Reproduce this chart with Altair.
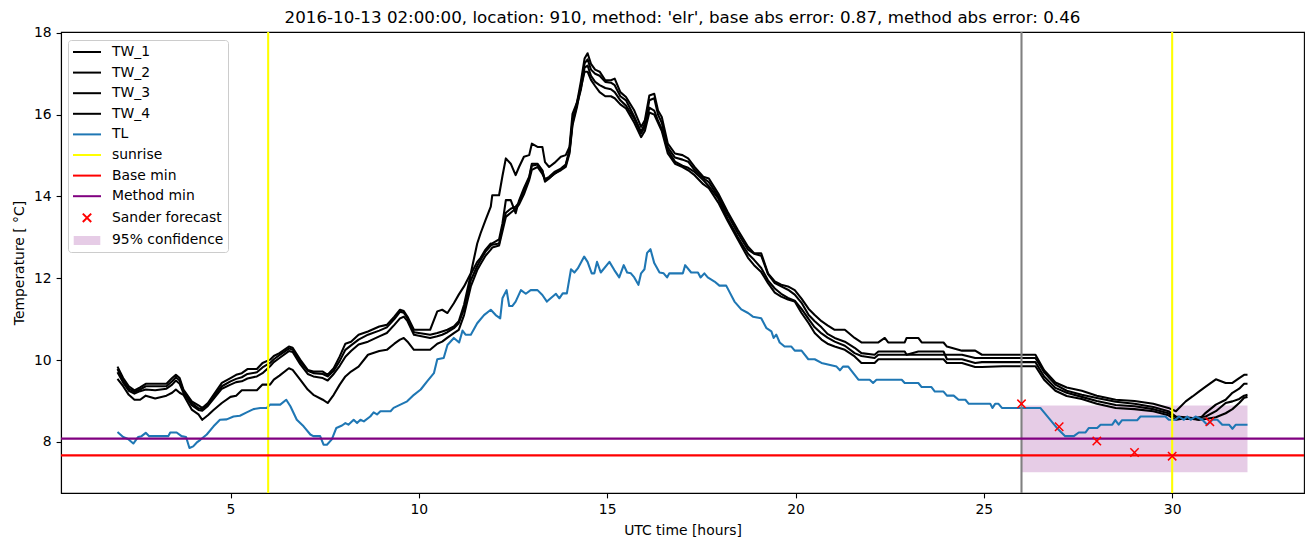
import altair as alt
import pandas as pd

# ---------------- data ----------------
TITLE = "2016-10-13 02:00:00, location: 910, method: 'elr', base abs error: 0.87, method abs error: 0.46"

TW_TIME = [2.0, 2.15, 2.3, 2.45, 2.6, 2.75, 3.0, 3.3, 3.45, 3.55,
           3.65, 3.75, 3.97, 4.15, 4.25, 4.4, 4.55, 4.77, 5.0, 5.15,
           5.3, 5.45, 5.7, 5.85, 6.05, 6.15, 6.3, 6.55, 6.65, 6.85,
           7.05, 7.2, 7.45, 7.58, 7.74, 7.9, 8.05, 8.2, 8.4, 8.65,
           8.95, 9.15, 9.35, 9.5, 9.6, 9.7, 9.87, 10.3, 10.49, 10.62,
           10.76, 10.93, 11.06, 11.2, 11.38, 11.55, 11.64, 11.77, 11.91, 11.95,
           12.13, 12.22, 12.31, 12.44, 12.57, 12.66, 12.79, 12.93, 13.0, 13.15,
           13.28, 13.35, 13.46, 13.6, 13.77, 13.9, 14.0, 14.08, 14.2, 14.3,
           14.4, 14.48, 14.57, 14.68, 14.8, 14.95, 15.1, 15.2, 15.35, 15.5,
           15.72, 15.9, 16.0, 16.12, 16.25, 16.35, 16.45, 16.61, 16.8, 17.0,
           17.15, 17.32, 17.55, 17.7, 17.95, 18.2, 18.47, 18.74, 18.9, 19.09,
           19.27, 19.45, 19.62, 19.8, 19.98, 20.16, 20.35, 20.51, 20.69, 20.85,
           21.04, 21.31, 21.57, 21.75, 22.1, 22.2, 22.37, 22.46, 22.9, 22.95,
           23.26, 23.35, 23.93, 24.02, 24.42, 24.77, 24.95, 25.5, 26.37, 26.6,
           26.9, 27.2, 27.6, 28.0, 28.5, 29.0, 29.5, 29.9, 30.1, 30.36,
           30.54, 30.71, 30.89, 31.16, 31.42, 31.6, 31.78, 31.91, 32.0]

TW_1 = [9.84, 9.56, 9.36, 9.26, 9.33, 9.42, 9.42, 9.42, 9.56, 9.64,
        9.56, 9.28, 8.99, 8.89, 8.83, 8.95, 9.15, 9.44, 9.56, 9.64,
        9.68, 9.78, 9.78, 9.93, 10.01, 10.10, 10.17, 10.33, 10.30, 10.01,
        9.76, 9.72, 9.72, 9.64, 9.80, 10.09, 10.40, 10.45, 10.62, 10.70,
        10.82, 10.86, 11.06, 11.23, 11.20, 11.06, 10.74, 10.74, 11.19, 11.23,
        11.15, 11.39, 11.60, 11.80, 12.12, 12.85, 13.10, 13.42, 13.75, 14.03,
        14.03, 14.50, 14.93, 14.80, 14.52, 14.72, 14.97, 15.01, 15.29, 15.21,
        15.21, 14.84, 14.72, 14.82, 14.97, 15.01, 15.21, 16.02, 16.30, 16.80,
        17.37, 17.50, 17.24, 17.10, 17.05, 16.84, 16.84, 16.88, 16.55, 16.43,
        16.10, 15.70, 15.86, 16.47, 16.51, 16.10, 15.94, 15.29, 15.05, 15.01,
        14.93, 14.72, 14.48, 14.44, 14.07, 13.62, 13.18, 12.77, 12.61, 12.61,
        12.12, 11.92, 11.84, 11.80, 11.71, 11.50, 11.25, 11.10, 10.95, 10.85,
        10.74, 10.74, 10.54, 10.43, 10.43, 10.43, 10.54, 10.43, 10.43, 10.54,
        10.54, 10.43, 10.43, 10.33, 10.23, 10.23, 10.13, 10.13, 10.13, 9.75,
        9.45, 9.33, 9.25, 9.13, 9.03, 9.00, 8.93, 8.83, 8.75, 8.99,
        9.11, 9.23, 9.35, 9.53, 9.44, 9.44, 9.56, 9.64, 9.64]

TW_2 = [9.78, 9.50, 9.30, 9.22, 9.28, 9.36, 9.36, 9.36, 9.48, 9.58,
        9.50, 9.25, 8.95, 8.82, 8.80, 8.92, 9.10, 9.36, 9.48, 9.54,
        9.58, 9.66, 9.70, 9.82, 9.93, 10.02, 10.12, 10.28, 10.26, 9.96,
        9.74, 9.68, 9.66, 9.60, 9.74, 9.98, 10.25, 10.36, 10.50, 10.62,
        10.72, 10.80, 11.00, 11.18, 11.16, 11.02, 10.68, 10.62, 10.66, 10.70,
        10.74, 10.82, 10.95, 11.35, 12.10, 12.40, 12.50, 12.70, 12.85, 12.85,
        12.95, 13.34, 13.91, 13.91, 13.59, 13.90, 14.20, 14.48, 14.80, 14.80,
        14.64, 14.36, 14.44, 14.56, 14.64, 14.72, 15.05, 15.74, 16.19, 16.70,
        17.25, 17.35, 17.10, 17.00, 16.95, 16.80, 16.78, 16.72, 16.45, 16.35,
        15.95, 15.58, 15.78, 16.35, 16.40, 16.00, 15.80, 15.20, 14.95, 14.90,
        14.85, 14.65, 14.45, 14.35, 14.00, 13.55, 13.10, 12.70, 12.60, 12.55,
        12.10, 11.88, 11.80, 11.72, 11.60, 11.40, 11.10, 10.95, 10.80, 10.64,
        10.54, 10.45, 10.30, 10.17, 10.13, 10.21, 10.21, 10.21, 10.21, 10.13,
        10.13, 10.13, 10.13, 10.13, 10.13, 10.05, 10.05, 10.05, 10.05, 9.70,
        9.40, 9.25, 9.15, 9.07, 8.98, 8.93, 8.85, 8.75, 8.62, 8.60,
        8.58, 8.54, 8.71, 8.91, 9.03, 9.20, 9.30, 9.42, 9.42]

TW_3 = [9.70, 9.45, 9.25, 9.18, 9.24, 9.28, 9.26, 9.30, 9.40, 9.50,
        9.42, 9.20, 8.90, 8.78, 8.76, 8.88, 9.05, 9.30, 9.40, 9.46,
        9.48, 9.55, 9.60, 9.68, 9.85, 9.95, 10.05, 10.22, 10.20, 9.90,
        9.66, 9.60, 9.56, 9.50, 9.66, 9.86, 10.08, 10.22, 10.38, 10.45,
        10.58, 10.66, 10.86, 11.02, 11.06, 10.95, 10.62, 10.54, 10.58, 10.62,
        10.68, 10.78, 10.90, 11.25, 11.95, 12.30, 12.45, 12.65, 12.80, 12.82,
        12.85, 13.25, 13.60, 13.70, 13.75, 13.85, 14.15, 14.45, 14.75, 14.78,
        14.62, 14.40, 14.45, 14.55, 14.66, 14.76, 15.10, 15.80, 16.25, 16.60,
        17.15, 17.20, 16.95, 16.80, 16.72, 16.65, 16.62, 16.55, 16.35, 16.22,
        15.90, 15.54, 15.70, 16.17, 16.10, 15.85, 15.65, 15.13, 14.85, 14.75,
        14.70, 14.60, 14.40, 14.25, 13.95, 13.45, 13.00, 12.60, 12.45, 12.25,
        11.95, 11.75, 11.62, 11.52, 11.45, 11.25, 11.00, 10.80, 10.65, 10.55,
        10.45, 10.35, 10.17, 10.10, 10.05, 10.13, 10.13, 10.13, 10.13, 10.13,
        10.21, 10.21, 10.21, 10.02, 10.02, 9.93, 9.95, 9.95, 9.95, 9.60,
        9.32, 9.20, 9.10, 9.00, 8.90, 8.87, 8.80, 8.70, 8.60, 8.56,
        8.56, 8.60, 8.62, 8.75, 8.95, 8.99, 9.05, 9.13, 9.15]

TW_4 = [9.54, 9.36, 9.15, 9.03, 9.03, 9.13, 9.06, 9.13, 9.20, 9.28,
        9.20, 9.15, 8.79, 8.67, 8.54, 8.65, 8.78, 8.95, 9.10, 9.13,
        9.26, 9.26, 9.26, 9.40, 9.40, 9.52, 9.62, 9.80, 9.76, 9.52,
        9.28, 9.15, 9.03, 8.95, 9.15, 9.40, 9.60, 9.72, 9.84, 10.13,
        10.22, 10.25, 10.40, 10.50, 10.54, 10.45, 10.25, 10.25, 10.40, 10.45,
        10.55, 10.66, 10.74, 11.10, 11.80, 12.20, 12.35, 12.55, 12.70, 12.75,
        12.80, 13.15, 13.50, 13.60, 13.70, 13.80, 14.05, 14.40, 14.65, 14.72,
        14.55, 14.42, 14.48, 14.60, 14.68, 14.78, 15.15, 15.85, 16.30, 16.65,
        17.05, 17.05, 16.85, 16.70, 16.55, 16.45, 16.45, 16.40, 16.25, 16.15,
        15.80, 15.45, 15.60, 16.05, 16.00, 15.80, 15.60, 15.05, 14.80, 14.72,
        14.64, 14.52, 14.30, 14.20, 13.85, 13.40, 12.95, 12.50, 12.32, 12.15,
        11.88, 11.65, 11.55, 11.48, 11.43, 11.15, 10.90, 10.66, 10.50, 10.40,
        10.33, 10.25, 10.09, 9.93, 9.93, 10.02, 10.02, 10.02, 10.02, 10.02,
        10.02, 10.02, 10.02, 9.93, 9.93, 9.83, 9.83, 9.85, 9.85, 9.52,
        9.25, 9.12, 9.05, 8.93, 8.83, 8.80, 8.75, 8.65, 8.54, 8.58,
        8.56, 8.54, 8.56, 8.60, 8.70, 8.80, 8.95, 9.08, 9.10]

TL_TIME = [2.0, 2.15, 2.28, 2.42, 2.55, 2.64, 2.75, 2.84, 3.35, 3.4,
           3.57, 3.7, 3.82, 3.91, 4.01, 4.1, 4.2, 4.37, 4.55, 4.72,
           4.9, 5.08, 5.25, 5.43, 5.61, 5.79, 5.96, 6.05, 6.32, 6.48,
           6.59, 6.76, 6.94, 7.12, 7.2, 7.38, 7.47, 7.56, 7.69, 7.81,
           7.96, 8.05, 8.13, 8.27, 8.36, 8.45, 8.54, 8.71, 8.8, 8.89,
           8.98, 9.25, 9.33, 9.51, 9.69, 9.87, 10.05, 10.22, 10.4, 10.49,
           10.66, 10.76, 10.93, 11.07, 11.16, 11.24, 11.38, 11.55, 11.73, 11.91,
           12.04, 12.16, 12.22, 12.33, 12.4, 12.48, 12.57, 12.71, 12.84, 12.97,
           13.15, 13.28, 13.4, 13.5, 13.64, 13.73, 13.82, 13.93, 14.04, 14.13,
           14.22, 14.39, 14.48, 14.59, 14.66, 14.73, 14.83, 15.06, 15.19, 15.32,
           15.44, 15.53, 15.63, 15.72, 15.83, 15.9, 15.99, 16.06, 16.15, 16.25,
           16.39, 16.5, 16.59, 16.65, 17.01, 17.07, 17.23, 17.41, 17.48, 17.58,
           17.67, 17.85, 17.98, 18.16, 18.38, 18.56, 18.74, 18.87, 19.09, 19.23,
           19.36, 19.42, 19.49, 19.58, 19.71, 19.89, 19.98, 20.16, 20.34, 20.51,
           20.69, 21.09, 21.18, 21.26, 21.4, 21.67, 21.97, 22.06, 22.15, 22.82,
           22.9, 23.26, 23.35, 23.61, 23.7, 23.93, 24.02, 24.2, 24.33, 24.51,
           24.6, 25.17, 25.23, 25.3, 25.39, 25.48, 26.5, 26.94, 27.16, 27.39,
           27.52, 27.7, 27.79, 28.01, 28.1, 28.41, 28.49, 28.58, 28.67, 29.07,
           29.16, 29.82, 29.91, 30.09, 30.18, 30.31, 30.4, 30.49, 30.62, 30.8,
           30.93, 31.07, 31.2, 31.33, 31.51, 31.6, 31.69, 32.0]

TL = [8.24, 8.12, 8.07, 7.96, 8.12, 8.14, 8.22, 8.14, 8.14, 8.23,
      8.23, 8.14, 8.12, 7.85, 7.89, 7.98, 8.05, 8.18, 8.38, 8.54,
      8.55, 8.62, 8.64, 8.72, 8.80, 8.83, 8.83, 8.91, 8.91, 9.03,
      8.87, 8.54, 8.38, 8.18, 8.14, 8.14, 7.93, 7.93, 8.06, 8.34,
      8.40, 8.46, 8.42, 8.54, 8.46, 8.54, 8.50, 8.62, 8.72, 8.67,
      8.75, 8.75, 8.83, 8.91, 8.99, 9.15, 9.28, 9.48, 9.68, 10.02,
      10.05, 10.37, 10.54, 10.43, 10.72, 10.62, 10.62, 10.90, 11.10, 11.23,
      11.10, 11.02, 11.51, 11.71, 11.32, 11.32, 11.43, 11.71, 11.62, 11.71,
      11.71, 11.59, 11.43, 11.51, 11.62, 11.51, 11.63, 11.63, 12.22, 12.14,
      12.24, 12.53, 12.40, 12.12, 12.12, 12.40, 12.14, 12.40, 12.20, 12.02,
      12.32, 12.14, 12.12, 12.02, 11.84, 12.12, 12.22, 12.62, 12.71, 12.37,
      12.14, 12.12, 12.02, 12.12, 12.12, 12.32, 12.14, 12.14, 12.02, 12.12,
      12.02, 11.92, 11.82, 11.82, 11.43, 11.24, 11.15, 11.06, 11.02, 10.78,
      10.70, 10.54, 10.62, 10.43, 10.33, 10.33, 10.23, 10.23, 10.02, 10.02,
      9.93, 9.84, 9.75, 9.84, 9.84, 9.52, 9.52, 9.44, 9.52, 9.52,
      9.44, 9.44, 9.34, 9.34, 9.23, 9.23, 9.13, 9.13, 9.03, 9.03,
      8.93, 8.93, 8.83, 8.93, 8.93, 8.83, 8.83, 8.34, 8.14, 8.14,
      8.23, 8.23, 8.34, 8.34, 8.42, 8.42, 8.53, 8.42, 8.53, 8.53,
      8.62, 8.62, 8.54, 8.54, 8.62, 8.54, 8.62, 8.54, 8.62, 8.54,
      8.42, 8.54, 8.54, 8.42, 8.42, 8.32, 8.42, 8.42]

SUNRISE = [6.0, 30.0]
FORECAST_START = [26.0]
BASE_MIN = [7.67]
METHOD_MIN = [8.08]
SANDER_TIME = [26, 27, 28, 29, 30, 31]
SANDER = [8.93, 8.37, 8.02, 7.74, 7.65, 8.49]
CONF_START = [26.0]
CONF_END = [32.0]
CONF_LOW = [7.26]
CONF_HIGH = [8.89]

LEGEND_LABELS = ["TW_1", "TW_2", "TW_3", "TW_4", "TL", "sunrise", "Base min",
                 "Method min", "Sander forecast", "95% confidence"]
X_TICKS = [5, 10, 15, 20, 25, 30]
Y_TICKS = [8, 10, 12, 14, 16, 18]

# ---------------- styling ----------------
FONT = "DejaVu Sans"
LINE_W = 2.08
LEGEND_COLORS = ["black", "black", "black", "black", "#1f77b4", "yellow", "red",
                 "purple", "red", "#e6cce6"]
LINE_PATH = "M-2,0L2,0"
CROSS_PATH = "M-0.6,-0.6L0.6,0.6M-0.6,0.6L0.6,-0.6"
PATCH_PATH = "".join("M-1.9,%.3fL1.9,%.3f" % (y, y)
                     for y in [-0.5, -0.375, -0.25, -0.125, 0, 0.125, 0.25, 0.375, 0.5])
LEGEND_SHAPES = [LINE_PATH] * 8 + [CROSS_PATH, PATCH_PATH]

tw_df = pd.concat([
    pd.DataFrame({"series": name, "t": TW_TIME, "v": vals})
    for name, vals in [("TW_1", TW_1), ("TW_2", TW_2), ("TW_3", TW_3), ("TW_4", TW_4)]
])
tl_df = pd.DataFrame({"t": TL_TIME, "v": TL})
sun_df = pd.DataFrame({"t": SUNRISE})
fc_df = pd.DataFrame({"t": FORECAST_START})
base_df = pd.DataFrame({"v": BASE_MIN})
meth_df = pd.DataFrame({"v": METHOD_MIN})
sander_df = pd.DataFrame({"t": SANDER_TIME, "v": SANDER})
conf_df = pd.DataFrame({"t": CONF_START, "t2": CONF_END, "v": CONF_LOW, "v2": CONF_HIGH})
leg_df = pd.DataFrame({"label": LEGEND_LABELS, "t": [-100.0] * 10, "v": [10.0] * 10})

X = alt.X("t:Q", scale=alt.Scale(domain=[0.5, 33.5], nice=False, zero=False),
          axis=alt.Axis(values=X_TICKS, title="UTC time [hours]", format="d",
                        labelFlush=False))
Y = alt.Y("v:Q", scale=alt.Scale(domain=[6.75, 18.02], nice=False, zero=False),
          axis=alt.Axis(values=Y_TICKS, title="Temperature [ °C]", format="d",
                        labelFlush=False))

band = alt.Chart(conf_df).mark_rect(color="purple", opacity=0.2).encode(
    x=X, x2="t2:Q", y=Y, y2="v2:Q")
tw = alt.Chart(tw_df).mark_line(color="black", strokeWidth=LINE_W, strokeJoin="round").encode(
    x=X, y=Y, detail="series:N")
tl = alt.Chart(tl_df).mark_line(color="#1f77b4", strokeWidth=LINE_W, strokeJoin="round").encode(
    x=X, y=Y)
sun = alt.Chart(sun_df).mark_rule(color="yellow", strokeWidth=LINE_W).encode(x=X)
fc = alt.Chart(fc_df).mark_rule(color="gray", strokeWidth=LINE_W).encode(x=X)
base = alt.Chart(base_df).mark_rule(color="red", strokeWidth=LINE_W).encode(y=Y)
meth = alt.Chart(meth_df).mark_rule(color="purple", strokeWidth=LINE_W).encode(y=Y)
sander = alt.Chart(sander_df).mark_point(
    shape="M-1,-1L1,1M-1,1L1,-1", size=70, filled=False, color="red",
    strokeWidth=1.5, opacity=1).encode(x=X, y=Y)

LEG = alt.Legend(title=None, orient="none", legendX=7, legendY=8, padding=4,
                 rowPadding=5.6, symbolSize=196, symbolStrokeWidth=2,
                 symbolOffset=7, labelOffset=17, labelFont=FONT,
                 labelFontSize=13.9, labelColor="black", strokeColor="#cccccc",
                 fillColor="white", cornerRadius=3, labelLimit=0)
legend_layer = alt.Chart(leg_df).mark_point(
    clip=True, filled=False, size=196, strokeWidth=2, opacity=1).encode(
    x=X, y=Y,
    color=alt.Color("label:N", scale=alt.Scale(domain=LEGEND_LABELS, range=LEGEND_COLORS),
                    legend=LEG),
    shape=alt.Shape("label:N", scale=alt.Scale(domain=LEGEND_LABELS, range=LEGEND_SHAPES),
                    legend=LEG),
)

chart = alt.layer(band, tw, tl, sun, fc, base, meth, sander, legend_layer).properties(
    width=1243, height=461,
    padding={"left": 61, "top": 32, "right": 7, "bottom": 54},
    autosize=alt.AutoSizeParams(type="none"),
    title=alt.TitleParams(text=TITLE, font=FONT, fontSize=16.7, fontWeight="normal",
                          anchor="middle", offset=-1, color="black"),
).configure_view(stroke="black", strokeWidth=1.1).configure_axis(
    labelFont=FONT, labelFontSize=13.9, labelColor="black",
    titleFont=FONT, titleFontSize=13.9, titleFontWeight="normal", titleColor="black",
    domainColor="black", domainWidth=1.1, tickColor="black", tickWidth=1.1,
    tickSize=4.9, labelPadding=4.9, grid=False,
).configure_axisX(titlePadding=7).configure_axisY(titlePadding=7)

chart.save("out.html", embed_options={"renderer": "svg", "actions": False})
